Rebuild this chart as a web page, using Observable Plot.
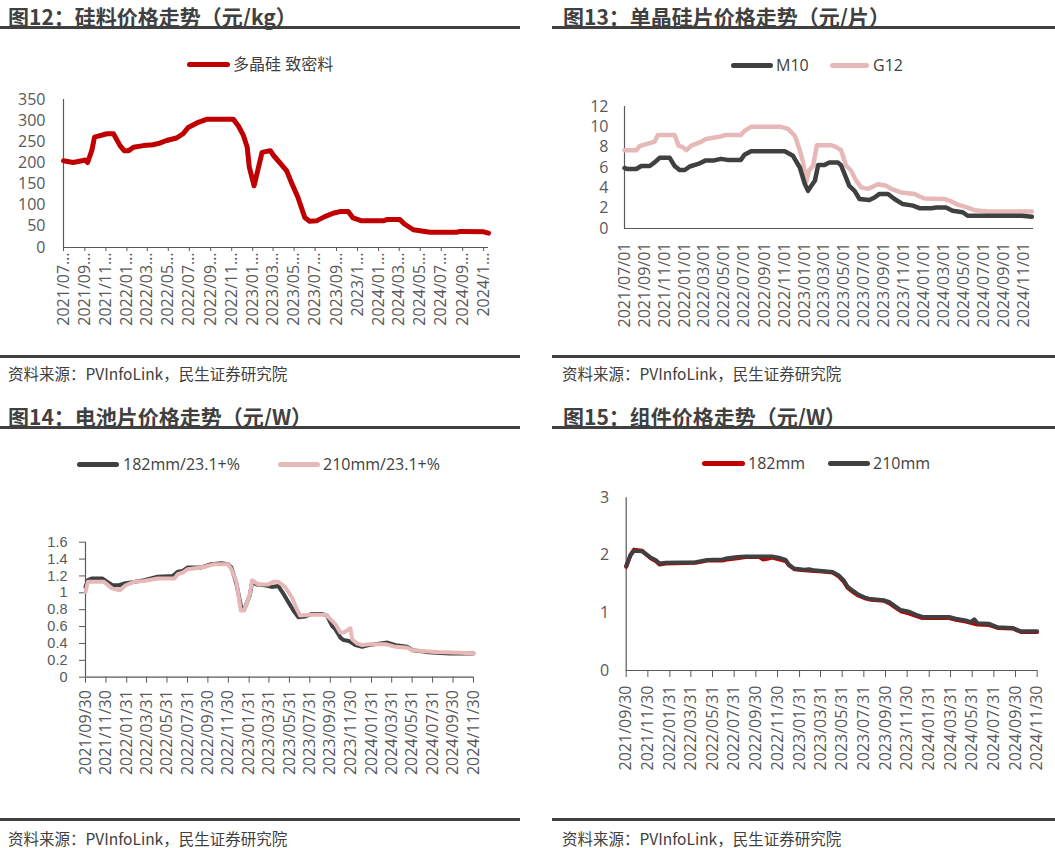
<!DOCTYPE html>
<html><head><meta charset="utf-8">
<script src="https://cdn.jsdelivr.net/npm/d3@7"></script>
<script src="https://cdn.jsdelivr.net/npm/@observablehq/plot@0.6"></script>
<style>
body{margin:0;width:1055px;height:848px;position:relative;background:#fff;overflow:hidden;font-family:"Noto Sans CJK SC","Noto Sans",sans-serif}
.abs{position:absolute}
.title{font-weight:bold;font-size:21px;line-height:24px;color:#404040;white-space:nowrap}
.rule{height:3px;background:#404040}
.src{font-size:15.5px;line-height:20px;color:#404040;white-space:nowrap}
.legtxt{font-family:"Open Sans","Noto Sans CJK SC",sans-serif;font-size:16px;line-height:20px;color:#404040;white-space:nowrap}
.legline{height:5px;border-radius:3px}
svg{position:absolute}
</style></head>
<body>
<div id="root"></div>
<script>
// ---------- Data ----------
// 图12 多晶硅 致密料 (元/kg)
const polyDates = ["2021-07-01","2021-07-29","2021-08-23","2021-09-02","2021-09-09","2021-09-21","2021-09-29","2021-11-04","2021-11-23","2021-12-12","2021-12-24","2022-01-06","2022-01-20","2022-02-18","2022-03-18","2022-04-06","2022-04-26","2022-05-25","2022-06-13","2022-06-28","2022-07-27","2022-08-20","2022-11-06","2022-11-20","2022-12-05","2022-12-16","2022-12-22","2023-01-05","2023-01-28","2023-02-21","2023-03-03","2023-03-20","2023-04-09","2023-04-23","2023-05-12","2023-06-01","2023-06-15","2023-07-05","2023-07-29","2023-08-22","2023-09-11","2023-10-05","2023-10-19","2023-11-13","2024-01-15","2024-01-25","2024-03-03","2024-03-17","2024-04-11","2024-05-29","2024-08-15","2024-08-25","2024-11-01","2024-11-15"];
const polyValues = [205,201,205,207,201,229,261,269,269,241,229,229,237,241,243,247,253,259,269,284,296,303,303,288,265,237,190,146,225,229,217,201,182,154,119,71,62,63,73,81,85,85,70,63,63,66,66,55,42,36,36,38,37,34];
const polyTickDates = ["2021-07-01","2021-09-01","2021-11-01","2022-01-01","2022-03-01","2022-05-01","2022-07-01","2022-09-01","2022-11-01","2023-01-01","2023-03-01","2023-05-01","2023-07-01","2023-09-01","2023-11-01","2024-01-01","2024-03-01","2024-05-01","2024-07-01","2024-09-01","2024-11-01"];
const polyTickLabels = ["2021/07…","2021/09…","2021/11…","2022/01…","2022/03…","2022/05…","2022/07…","2022/09…","2022/11…","2023/01…","2023/03…","2023/05…","2023/07…","2023/09…","2023/1…","2024/01…","2024/03…","2024/05…","2024/07…","2024/09…","2024/1…"];

// 图13 单晶硅片 (元/片)
const m10Dates = ["2021-07-01","2021-07-11","2021-08-06","2021-08-21","2021-09-16","2021-10-01","2021-10-16","2021-11-16","2021-12-01","2021-12-16","2022-01-01","2022-01-16","2022-02-11","2022-03-06","2022-04-01","2022-04-21","2022-05-11","2022-06-21","2022-07-02","2022-07-22","2022-11-02","2022-11-27","2022-12-18","2023-01-02","2023-01-12","2023-01-22","2023-02-02","2023-02-12","2023-03-03","2023-03-18","2023-04-13","2023-04-23","2023-05-08","2023-05-18","2023-06-03","2023-06-18","2023-07-18","2023-08-03","2023-08-18","2023-09-13","2023-10-03","2023-10-28","2023-11-28","2023-12-18","2024-01-23","2024-02-08","2024-03-08","2024-03-28","2024-04-28","2024-05-13","2024-10-25","2024-11-25"];
const m10Values = [5.95,5.85,5.85,6.15,6.15,6.5,6.95,6.95,6.15,5.75,5.75,6.1,6.35,6.7,6.7,6.85,6.75,6.75,7.25,7.6,7.6,7.15,6.0,4.4,3.7,4.2,4.7,6.25,6.25,6.5,6.5,6.2,5.0,4.2,3.7,2.9,2.8,3.05,3.4,3.4,2.9,2.4,2.25,2.0,2.0,2.07,2.07,1.75,1.6,1.25,1.25,1.15];
const g12Dates = ["2021-07-01","2021-08-06","2021-08-16","2021-08-26","2021-09-16","2021-10-01","2021-10-11","2021-12-01","2021-12-13","2021-12-26","2022-01-06","2022-01-21","2022-02-21","2022-03-06","2022-04-21","2022-05-06","2022-06-21","2022-07-02","2022-07-22","2022-10-22","2022-11-12","2022-12-03","2022-12-18","2022-12-28","2023-01-07","2023-01-15","2023-01-28","2023-02-08","2023-03-23","2023-04-08","2023-04-23","2023-05-08","2023-05-23","2023-06-08","2023-06-23","2023-07-13","2023-07-28","2023-08-13","2023-09-08","2023-09-23","2023-10-23","2023-12-03","2023-12-18","2024-01-03","2024-03-03","2024-03-18","2024-04-13","2024-05-13","2024-06-03","2024-07-13","2024-11-25"];
const g12Values = [7.7,7.7,8.1,8.2,8.4,8.55,9.2,9.2,8.15,8.0,7.7,8.15,8.55,8.8,9.05,9.2,9.2,9.6,10.0,10.0,9.8,9.1,7.7,6.5,4.6,5.7,6.2,8.2,8.2,8.0,7.7,6.2,5.7,4.7,4.05,3.9,4.1,4.35,4.2,3.9,3.55,3.4,3.15,2.95,2.9,2.75,2.35,2.05,1.8,1.68,1.68];
const waferTickLabels = ["2021/07/01","2021/09/01","2021/11/01","2022/01/01","2022/03/01","2022/05/01","2022/07/01","2022/09/01","2022/11/01","2023/01/01","2023/03/01","2023/05/01","2023/07/01","2023/09/01","2023/11/01","2024/01/01","2024/03/01","2024/05/01","2024/07/01","2024/09/01","2024/11/01"];

// 图14 电池片 (元/W)
const c182Dates = ["2021-09-30","2021-10-07","2021-10-20","2021-11-19","2021-12-04","2021-12-19","2022-01-08","2022-01-23","2022-02-22","2022-03-24","2022-05-03","2022-06-17","2022-07-02","2022-07-17","2022-08-01","2022-09-10","2022-10-10","2022-11-09","2022-11-29","2022-12-09","2022-12-24","2023-01-08","2023-01-16","2023-02-02","2023-02-09","2023-02-22","2023-03-19","2023-04-08","2023-04-28","2023-05-13","2023-05-28","2023-06-12","2023-06-27","2023-07-17","2023-08-06","2023-09-05","2023-09-20","2023-10-05","2023-10-15","2023-10-30","2023-11-09","2023-11-24","2023-12-14","2024-01-03","2024-01-23","2024-03-18","2024-04-12","2024-05-17","2024-06-01","2024-07-11","2024-08-10","2024-09-19","2024-11-30"];
const c182Values = [1.07,1.15,1.17,1.17,1.13,1.09,1.09,1.11,1.13,1.15,1.19,1.2,1.25,1.26,1.3,1.3,1.34,1.35,1.34,1.3,1.11,0.81,0.8,0.97,1.13,1.1,1.09,1.07,1.08,0.99,0.89,0.79,0.71,0.72,0.75,0.75,0.73,0.61,0.57,0.47,0.44,0.43,0.38,0.36,0.38,0.41,0.38,0.36,0.32,0.3,0.29,0.28,0.28];
const c210Dates = ["2021-09-30","2021-10-07","2021-11-24","2021-12-19","2022-01-11","2022-01-28","2022-02-22","2022-03-24","2022-05-03","2022-06-22","2022-07-02","2022-07-17","2022-08-01","2022-09-10","2022-10-20","2022-11-29","2022-12-09","2022-12-24","2023-01-06","2023-01-16","2023-02-02","2023-02-09","2023-02-27","2023-03-29","2023-04-13","2023-04-28","2023-05-18","2023-06-07","2023-06-22","2023-07-02","2023-07-27","2023-09-15","2023-09-25","2023-10-15","2023-10-30","2023-11-09","2023-11-29","2023-12-04","2023-12-19","2024-01-03","2024-01-23","2024-03-13","2024-04-12","2024-05-17","2024-06-01","2024-08-10","2024-10-24","2024-11-30"];
const c210Values = [1.01,1.13,1.13,1.05,1.03,1.09,1.13,1.14,1.17,1.17,1.22,1.24,1.28,1.3,1.34,1.34,1.28,1.13,0.79,0.79,0.98,1.15,1.1,1.1,1.13,1.13,1.07,0.95,0.81,0.73,0.74,0.74,0.71,0.63,0.53,0.53,0.58,0.45,0.4,0.38,0.39,0.39,0.36,0.35,0.32,0.3,0.29,0.28];

// 图15 组件 (元/W)
const m182Dates = ["2021-09-30","2021-10-12","2021-10-22","2021-11-14","2021-11-23","2021-12-08","2021-12-22","2022-01-02","2022-01-19","2022-04-13","2022-05-16","2022-06-28","2022-07-12","2022-08-09","2022-09-01","2022-10-10","2022-10-20","2022-11-01","2022-11-15","2022-12-04","2022-12-23","2023-01-01","2023-01-16","2023-02-13","2023-03-13","2023-04-05","2023-05-04","2023-05-22","2023-06-05","2023-06-15","2023-06-29","2023-07-13","2023-08-06","2023-08-20","2023-09-26","2023-10-10","2023-10-24","2023-11-12","2023-12-06","2023-12-24","2024-01-12","2024-03-27","2024-04-15","2024-05-13","2024-06-15","2024-07-18","2024-08-11","2024-09-22","2024-10-15","2024-11-30"];
const m182Values = [1.80,2.01,2.10,2.08,2.03,1.95,1.90,1.84,1.86,1.87,1.91,1.91,1.93,1.95,1.97,1.97,1.93,1.94,1.96,1.93,1.90,1.83,1.76,1.74,1.73,1.72,1.70,1.63,1.54,1.44,1.37,1.31,1.25,1.23,1.21,1.17,1.11,1.03,0.99,0.95,0.91,0.91,0.88,0.85,0.80,0.79,0.74,0.73,0.67,0.67];
const m210Dates = ["2021-09-30","2021-10-12","2021-10-22","2021-11-14","2021-11-23","2021-12-08","2021-12-22","2022-01-02","2022-01-19","2022-04-13","2022-05-16","2022-06-28","2022-07-12","2022-08-09","2022-09-01","2022-11-15","2022-12-04","2022-12-23","2023-01-01","2023-01-16","2023-02-13","2023-02-27","2023-03-13","2023-04-05","2023-05-04","2023-05-22","2023-06-05","2023-06-15","2023-06-29","2023-07-13","2023-08-06","2023-08-20","2023-09-26","2023-10-10","2023-10-24","2023-11-12","2023-12-06","2023-12-24","2024-01-12","2024-03-27","2024-04-15","2024-05-13","2024-05-27","2024-06-06","2024-06-15","2024-07-18","2024-08-11","2024-09-22","2024-10-15","2024-11-30"];
const m210Values = [1.82,2.0,2.08,2.07,2.03,1.96,1.92,1.86,1.87,1.88,1.92,1.93,1.95,1.97,1.98,1.98,1.96,1.92,1.84,1.77,1.75,1.76,1.74,1.73,1.71,1.65,1.56,1.46,1.39,1.33,1.26,1.24,1.22,1.19,1.13,1.05,1.02,0.97,0.93,0.93,0.9,0.87,0.84,0.89,0.82,0.81,0.75,0.74,0.68,0.68];
const monthEndTickLabels = ["2021/09/30","2021/11/30","2022/01/31","2022/03/31","2022/05/31","2022/07/31","2022/09/30","2022/11/30","2023/01/31","2023/03/31","2023/05/31","2023/07/31","2023/09/30","2023/11/30","2024/01/31","2024/03/31","2024/05/31","2024/07/31","2024/09/30","2024/11/30"];

const polyYTicks = [0,50,100,150,200,250,300,350];
const waferYTicks = [0,2,4,6,8,10,12];
const cellYTicks = [0,0.2,0.4,0.6,0.8,1,1.2,1.4,1.6];
const moduleYTicks = [0,1,2,3];

// ---------- Helpers ----------
const pDash = d3.utcParse("%Y-%m-%d");
const pSlash = d3.utcParse("%Y/%m/%d");
const zip = (ds, vs) => ds.map((d, i) => ({date: pDash(d), value: vs[i]}));
const root = document.getElementById("root");
function box(cls, left, top, extra = {}, text = "") {
  const el = document.createElement("div");
  el.className = "abs " + cls;
  el.style.left = left + "px"; el.style.top = top + "px";
  Object.assign(el.style, extra);
  el.textContent = text;
  root.appendChild(el);
  return el;
}
const AXIS = "#595959";

function chart(o) {
  const map = new Map(o.tickDates.map((d, i) => [+d, o.tickLabels[i]]));
  const yOpts = {ticks: o.yTicks, tickFormat: d => String(d), tickSize: o.yTickSize, tickPadding: o.yPad, label: null, stroke: AXIS};
  if (o.yFont) Object.assign(yOpts, o.yFont);
  const svg = Plot.plot({
    width: o.width, height: o.height,
    marginTop: o.mt, marginBottom: o.mb, marginLeft: o.ml, marginRight: o.mr,
    style: {fontFamily: '"Open Sans","Noto Sans",sans-serif', fontSize: "16px", color: AXIS, background: "transparent", overflow: "visible"},
    x: {type: "utc", domain: o.xDomain},
    y: {domain: o.yDomain},
    marks: [
      Plot.axisY(yOpts),
      Plot.axisX({ticks: o.tickDates, tickFormat: d => map.get(+d), tickRotate: -90, tickSize: o.xTickSize, tickPadding: o.xPad, label: null, stroke: AXIS}),
      Plot.ruleX([o.xDomain[0]], {stroke: AXIS, strokeWidth: 1.2}),
      Plot.ruleY([0], {stroke: AXIS, strokeWidth: 1.2}),
      ...o.series.map(s => Plot.line(s.data, {x: "date", y: "value", stroke: s.color, strokeWidth: o.lw, strokeLinejoin: "round", strokeLinecap: "round"}))
    ]
  });
  svg.style.left = o.left + "px"; svg.style.top = o.top + "px";
  root.appendChild(svg);
}
function legend(items, y) {
  for (const it of items) {
    box("legline", it.x1, y - 2.5, {width: (it.x2 - it.x1) + "px", background: it.color});
    box("legtxt", it.tx, y - 10, {}, it.label);
  }
}

const RED = "#C00000", DARK = "#404040", PINK = "#E6B9B8";

// ---------- Frames ----------
box("title", 8, 4, {}, "图12：硅料价格走势（元/kg）");
box("title", 563, 4, {}, "图13：单晶硅片价格走势（元/片）");
box("rule", 0, 26, {width: "520px"});
box("rule", 552, 26, {width: "503px"});
box("rule", 0, 355, {width: "520px"});
box("rule", 552, 355, {width: "503px"});
box("src", 8, 363, {}, "资料来源：PVInfoLink，民生证券研究院");
box("src", 562, 363, {}, "资料来源：PVInfoLink，民生证券研究院");
box("title", 8, 404, {}, "图14：电池片价格走势（元/W）");
box("title", 563, 404, {}, "图15：组件价格走势（元/W）");
box("rule", 0, 426, {width: "520px"});
box("rule", 552, 426, {width: "503px"});
box("rule", 0, 818, {width: "520px"});
box("rule", 552, 818, {width: "503px"});
box("src", 8, 828, {}, "资料来源：PVInfoLink，民生证券研究院");
box("src", 562, 828, {}, "资料来源：PVInfoLink，民生证券研究院");

// ---------- Panel 12 ----------
legend([{x1: 187, x2: 230, tx: 233, color: RED, label: "多晶硅 致密料"}], 64);
chart({
  left: 0, top: 80, width: 518, height: 265, mt: 19, mb: 98, ml: 63, mr: 30,
  xDomain: [pDash("2021-07-01"), pDash("2024-11-15")], yDomain: [0, 350], yTicks: polyYTicks,
  tickDates: polyTickDates.map(pDash), tickLabels: polyTickLabels,
  yTickSize: 0, yPad: 18, xTickSize: 4, xPad: 1, lw: 5,
  series: [{data: zip(polyDates, polyValues), color: RED}]
});

// ---------- Panel 13 ----------
legend([{x1: 731, x2: 773, tx: 776, color: DARK, label: "M10"}, {x1: 830, x2: 869, tx: 873, color: PINK, label: "G12"}], 65);
chart({
  left: 555, top: 80, width: 500, height: 265, mt: 26, mb: 117, ml: 69, mr: 22,
  xDomain: [pDash("2021-07-01"), pDash("2024-11-30")], yDomain: [0, 12], yTicks: waferYTicks,
  tickDates: waferTickLabels.map(pSlash), tickLabels: waferTickLabels,
  yTickSize: 0, yPad: 16, xTickSize: 0, xPad: 14, lw: 4.5,
  series: [{data: zip(g12Dates, g12Values), color: PINK}, {data: zip(m10Dates, m10Values), color: DARK}]
});

// ---------- Panel 14 ----------
legend([{x1: 77, x2: 119, tx: 123, color: DARK, label: "182mm/23.1+%"}, {x1: 278, x2: 320, tx: 323, color: PINK, label: "210mm/23.1+%"}], 464);
chart({
  left: 0, top: 520, width: 518, height: 280, mt: 21.7, mb: 123.3, ml: 85, mr: 45,
  xDomain: [pDash("2021-09-30"), pDash("2024-11-30")], yDomain: [0, 1.6], yTicks: cellYTicks,
  tickDates: monthEndTickLabels.map(pSlash), tickLabels: monthEndTickLabels,
  yTickSize: 6, yPad: 12, xTickSize: 6, xPad: 7, lw: 4,
  yFont: {fontFamily: '"Liberation Sans",Arial,sans-serif', fontSize: 14.5},
  series: [{data: zip(c182Dates, c182Values), color: DARK}, {data: zip(c210Dates, c210Values), color: PINK}]
});

// ---------- Panel 15 ----------
legend([{x1: 702, x2: 745, tx: 748, color: RED, label: "182mm"}, {x1: 828, x2: 870, tx: 873, color: DARK, label: "210mm"}], 463);
chart({
  left: 555, top: 480, width: 500, height: 320, mt: 17.3, mb: 130, ml: 70.7, mr: 18.3,
  xDomain: [pDash("2021-09-30"), pDash("2024-11-30")], yDomain: [0, 3], yTicks: moduleYTicks,
  tickDates: monthEndTickLabels.map(pSlash), tickLabels: monthEndTickLabels,
  yTickSize: 0, yPad: 17, xTickSize: 7, xPad: 8, lw: 4,
  series: [{data: zip(m182Dates, m182Values), color: RED}, {data: zip(m210Dates, m210Values), color: DARK}]
});
</script>
</body></html>
